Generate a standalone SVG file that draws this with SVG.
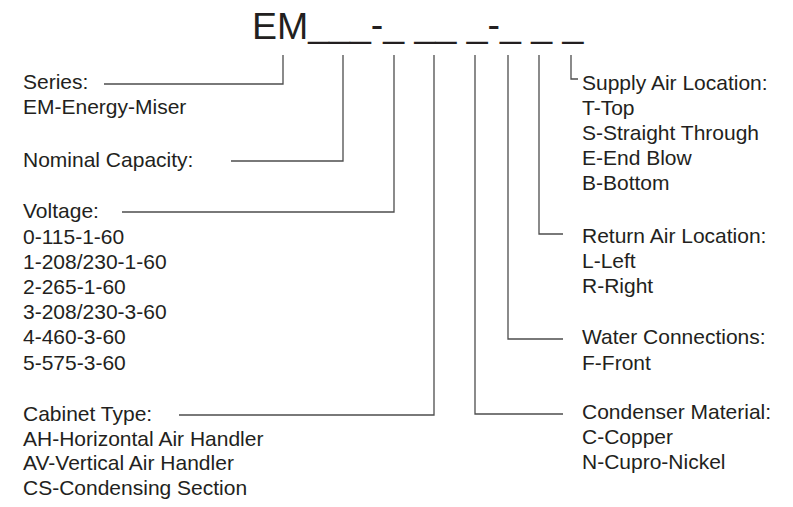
<svg xmlns="http://www.w3.org/2000/svg" width="793" height="507" viewBox="0 0 793 507">
<style>
text{font-family:"Liberation Sans",Arial,sans-serif;fill:#231f20;}
.t{font-size:21px;}
.h{font-size:37.5px;}
.c line,.c polyline{stroke:#4d4d4d;stroke-width:1.3;fill:none;}
</style>
<rect width="793" height="507" fill="#fff"/>
<g id="title"><text class="h" x="252" y="38.5">EM<tspan dy="-2">___-_ __ _-_ _ _</tspan></text></g>
<g class="c" id="connectors">
<polyline points="283,55 283,84 104,84"/>
<polyline points="343,55 343,161 231,161"/>
<polyline points="394,55 394,212 122,212"/>
<polyline points="434,55 434,415 179,415"/>
<polyline points="475,55 475,414 563,414"/>
<polyline points="508,55 508,339 563,339"/>
<polyline points="539,55 539,234 563,234"/>
<polyline points="571,55 571,79 578,79"/>
</g>
<g id="series"><text class="t" x="23" y="89">Series:</text><text class="t" x="23" y="113.5">EM-Energy-Miser</text></g>
<g id="capacity"><text class="t" x="23" y="166.5">Nominal Capacity:</text></g>
<g id="voltage"><text class="t" x="23" y="218">Voltage:</text>
<text class="t" x="23" y="243.5">0-115-1-60</text>
<text class="t" x="23" y="268.5">1-208/230-1-60</text>
<text class="t" x="23" y="293.5">2-265-1-60</text>
<text class="t" x="23" y="318.5">3-208/230-3-60</text>
<text class="t" x="23" y="344">4-460-3-60</text>
<text class="t" x="23" y="369.5">5-575-3-60</text></g>
<g id="cabinet"><text class="t" x="23" y="421">Cabinet Type:</text>
<text class="t" x="23" y="445.5">AH-Horizontal Air Handler</text>
<text class="t" x="23" y="470">AV-Vertical Air Handler</text>
<text class="t" x="23" y="495">CS-Condensing Section</text></g>
<g id="supply"><text class="t" x="582" y="89.5">Supply Air Location:</text>
<text class="t" x="582" y="114.5">T-Top</text>
<text class="t" x="582" y="139.5">S-Straight Through</text>
<text class="t" x="582" y="164.5">E-End Blow</text>
<text class="t" x="582" y="189.5">B-Bottom</text></g>
<g id="return"><text class="t" x="582" y="242.5">Return Air Location:</text>
<text class="t" x="582" y="268">L-Left</text>
<text class="t" x="582" y="293">R-Right</text></g>
<g id="water"><text class="t" x="582" y="344">Water Connections:</text>
<text class="t" x="582" y="369.5">F-Front</text></g>
<g id="condenser"><text class="t" x="582" y="419">Condenser Material:</text>
<text class="t" x="582" y="444">C-Copper</text>
<text class="t" x="582" y="469">N-Cupro-Nickel</text></g>
</svg>
